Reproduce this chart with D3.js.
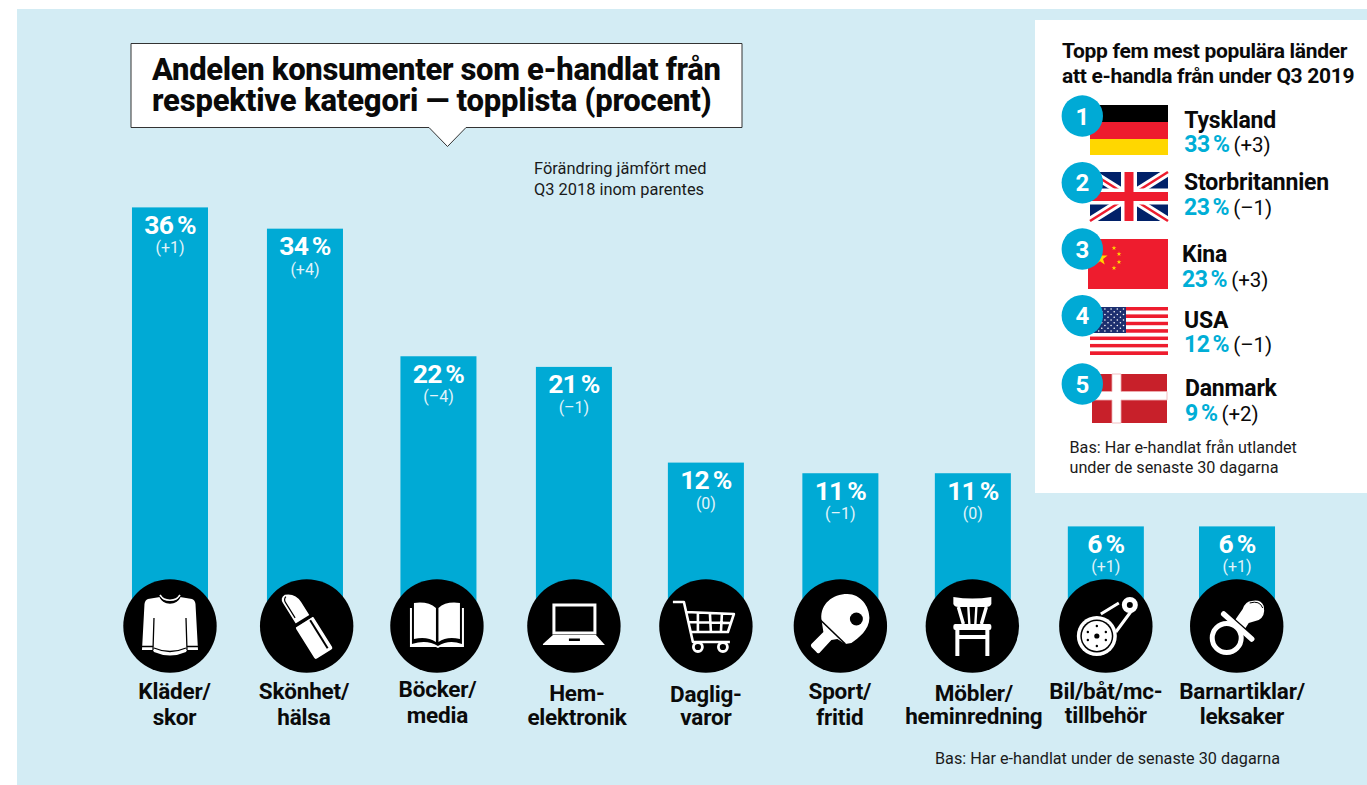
<!DOCTYPE html>
<html lang="sv">
<head>
<meta charset="utf-8">
<title>E-handel från utlandet</title>
<script src="https://cdnjs.cloudflare.com/ajax/libs/d3/7.8.5/d3.min.js"></script>
<style>
  html, body { margin: 0; padding: 0; background: #fff; }
  svg { display: block; }
  text { font-family: Roboto, "Noto Sans", sans-serif; }
</style>
</head>
<body>
<svg id="chart" width="1367" height="785"></svg>
<script>
// Category shares, Q3 2019 (percent) and change from Q3 2018 (points)
const categoryKeys = ["klader", "skonhet", "bocker", "hemelektronik", "dagligvaror", "sport", "mobler", "bil", "barn"];
const categoryLines = [
  ["Kläder/", "skor"], ["Skönhet/", "hälsa"], ["Böcker/", "media"],
  ["Hem-", "elektronik"], ["Daglig-", "varor"], ["Sport/", "fritid"],
  ["Möbler/", "heminredning"], ["Bil/båt/mc-", "tillbehör"], ["Barnartiklar/", "leksaker"]
];
const shares = [36, 34, 22, 21, 12, 11, 11, 6, 6];
const changes = ["+1", "+4", "–4", "–1", "0", "–1", "0", "+1", "+1"];

// Top five countries to shop from
const countries = ["Tyskland", "Storbritannien", "Kina", "USA", "Danmark"];
const countryShares = [33, 23, 23, 12, 9];
const countryChanges = ["+3", "–1", "+3", "–1", "+2"];

const titleLines = ["Andelen konsumenter som e-handlat från", "respektive kategori — topplista (procent)"];
const noteLines = ["Förändring jämfört med", "Q3 2018 inom parentes"];
const panelTitleLines = ["Topp fem mest populära länder", "att e-handla från under Q3 2019"];
const panelBaseLines = ["Bas: Har e-handlat från utlandet", "under de senaste 30 dagarna"];
const chartBase = "Bas: Har e-handlat under de senaste 30 dagarna";

const BLUE = "#00aad5", BG = "#d3ecf4", INK = "#0a0a0a", RED = "#ee1c2e";

const svg = d3.select("#chart");
svg.append("rect").attr("x", 17).attr("y", 9).attr("width", 1350).attr("height", 776).attr("fill", BG);

function label(parent, str, x, y, size, weight, fill, opts = {}) {
  return parent.append("text").attr("x", x).attr("y", y)
    .attr("font-size", size).attr("font-weight", weight).attr("fill", fill)
    .attr("text-anchor", opts.anchor || "start")
    .attr("letter-spacing", opts.ls ?? null)
    .attr("word-spacing", opts.ws ?? null)
    .text(str);
}

// ---- Columns ----
const x = d3.scaleBand().domain(categoryKeys).range([103.3, 1303.7]).paddingInner(0.43).paddingOuter(0.215);
const y = d3.scaleLinear().domain([0, 36]).range([590.2, 207.4]);
// The columns were set by hand in the layout, so each sits slightly off the even grid
const columnNudge = [0, 1.6, 1.7, 3.8, 2.4, 3.5, 2.6, 2.2, 0];
const discNudge = [0, 1.7, -1.5, 0, 0, 0, -0.5, 0, -0.3];
const centre = i => x(categoryKeys[i]) + x.bandwidth() / 2 + columnNudge[i];
const footY = y(-1.2); // the foot of each column tucks under its icon disc

const columns = svg.append("g").selectAll("g").data(shares).join("g");
columns.append("rect")
  .attr("x", (d, i) => centre(i) - x.bandwidth() / 2)
  .attr("y", d => y(d))
  .attr("width", x.bandwidth())
  .attr("height", d => footY - y(d))
  .attr("fill", BLUE);
columns.append("text")
  .attr("x", (d, i) => centre(i)).attr("y", d => y(d) + 26.5)
  .attr("text-anchor", "middle").attr("fill", "#fff")
  .attr("font-size", 26.5).attr("font-weight", 700).attr("letter-spacing", -0.8).attr("word-spacing", -2)
  .text(d => d + " %");
columns.append("text")
  .attr("x", (d, i) => centre(i)).attr("y", d => y(d) + 46)
  .attr("text-anchor", "middle").attr("fill", "#e3f4fa")
  .attr("font-size", 16).attr("font-weight", 400)
  .text((d, i) => "(" + changes[i] + ")");

// ---- Icon glyphs, drawn around the disc centre ----
const W = "#fff", K = "#000";
const icons = {
  klader(g) {
    g.append("path").attr("fill", W).attr("d", "M-10,-29 C-6,-21 6,-21 10,-29 L22,-27 Q25,-26 25.5,-22 L28,24 L17,24 L16,26 Q0,33 -16,26 L-17,24 L-28,24 L-25.5,-22 Q-25,-26 -22,-27 Z");
    g.append("path").attr("fill", "none").attr("stroke", W).attr("stroke-width", 1.6).attr("d", "M-10,-31 C-6,-24 6,-24 10,-31");
    g.append("path").attr("fill", "none").attr("stroke", K).attr("stroke-width", 1.3)
      .attr("d", "M-16,-8 L-17,24 M16,-8 L17,24 M-28,20.5 L-17,20.5 M28,20.5 L17,20.5 M-16,22 Q0,29 16,22 M-10,-29 C-6,-21 6,-21 10,-29");
  },
  skonhet(g) {
    const l = g.append("g").attr("transform", "rotate(-32) translate(0,-1)");
    l.append("path").attr("fill", W).attr("d", "M-8,-6 L-8,-31 Q-8,-37 -2,-37 Q8,-33 8,-22 L8,-6 Z");
    l.append("path").attr("fill", "none").attr("stroke", K).attr("stroke-width", 1.2).attr("d", "M-5.5,-12 L-5.5,-30 Q-5.5,-34 -2,-35");
    l.append("rect").attr("x", -10.5).attr("y", -4).attr("width", 21).attr("height", 38).attr("rx", 2).attr("fill", W);
    l.append("rect").attr("x", -10.5).attr("y", -7).attr("width", 21).attr("height", 3.5).attr("fill", K);
    l.append("path").attr("stroke", K).attr("stroke-width", 2).attr("d", "M6,-2 L6,31");
  },
  bocker(g) {
    g.append("path").attr("fill", W).attr("d", "M-27,-18 L-25,-18 L-25,18 Q-10,13 1,20 Q12,13 25,18 L25,-18 L27,-18 L27,21 L3,21 L1,22 L-1,21 L-27,21 Z");
    g.append("path").attr("fill", W).attr("d", "M-23,-23 Q-9,-25 -1,-18 L-1,16 Q-10,10 -23,13 Z");
    g.append("path").attr("fill", W).attr("d", "M23,-23 Q9,-25 1.5,-18 L1.5,16 Q10,10 23,13 Z");
  },
  hemelektronik(g) {
    g.append("rect").attr("x", -20).attr("y", -21).attr("width", 41).attr("height", 28).attr("fill", "none").attr("stroke", W).attr("stroke-width", 3);
    g.append("path").attr("fill", W).attr("d", "M-21,9 L22,9 L31,19 L31,19 L-31,19 L-31,18 Z");
    g.append("rect").attr("x", -5).attr("y", 12.5).attr("width", 11).attr("height", 2.5).attr("fill", K);
  },
  dagligvaror(g) {
    g.append("path").attr("fill", "none").attr("stroke", W).attr("stroke-width", 2.6).attr("stroke-linejoin", "round")
      .attr("d", "M-33,-24 L-22,-24 L-13,16 L24,16 M-20,-14 L28,-12 L22,6 L-15,6 M-8,-13 L-8,6 M4,-13 L5,6 M16,-12 L15,6 M-18,-4 L25,-3");
    g.append("circle").attr("cx", -8).attr("cy", 21).attr("r", 4.5).attr("fill", "none").attr("stroke", W).attr("stroke-width", 2.8);
    g.append("circle").attr("cx", 17).attr("cy", 21).attr("r", 4.5).attr("fill", "none").attr("stroke", W).attr("stroke-width", 2.8);
  },
  sport(g) {
    g.append("path").attr("fill", W).attr("d", "M-19,-7 C-20,-22 -8,-32 7,-32 C20,-32 29,-20 29,-8 C29,4 18,12 11,17 L5,18 L-3,13 L-9,14 L-21,27 Q-23,28 -24,26 L-29,21 Q-30,19 -29,18 L-17,6 Z");
    g.append("path").attr("stroke", K).attr("stroke-width", 1.6).attr("fill", "none").attr("d", "M-21,-7 L5,18");
    g.append("circle").attr("cx", 16).attr("cy", -7).attr("r", 6.5).attr("fill", K);
  },
  mobler(g) {
    g.append("path").attr("fill", W).attr("d", "M-19,-29 Q0,-26 19,-29 L19,-22 Q18,-19 14,-19 L-14,-19 Q-18,-19 -19,-22 Z");
    g.append("path").attr("stroke", W).attr("fill", "none").attr("stroke-width", 3.4).attr("d", "M-14,-19 L-9,-2 M14,-19 L9,-2");
    g.append("path").attr("stroke", W).attr("fill", "none").attr("stroke-width", 2.4).attr("d", "M-4,-19 L-3,-2 M4,-19 L3,-2");
    g.append("rect").attr("x", -19).attr("y", -2).attr("width", 38).attr("height", 6).attr("rx", 2).attr("fill", W);
    g.append("path").attr("fill", W).attr("d", "M-17,4 L-13,4 L-13,9 L13,9 L13,4 L17,4 L17,30 L13,30 L13,13 L-13,13 L-13,30 L-17,30 Z");
  },
  bil(g) {
    g.append("circle").attr("cx", -9).attr("cy", 10).attr("r", 20).attr("fill", W);
    g.append("circle").attr("cx", -9).attr("cy", 10).attr("r", 16.5).attr("fill", K);
    g.append("circle").attr("cx", -9).attr("cy", 10).attr("r", 15).attr("fill", W);
    [[-9, 10, 2.6], [-9, 0, 1.2], [-9, 20, 1.2], [-18, 6, 1.2], [-18, 14, 1.2], [0, 6, 1.2], [0, 14, 1.2]]
      .forEach(p => g.append("circle").attr("cx", p[0]).attr("cy", p[1]).attr("r", p[2]).attr("fill", K));
    g.append("path").attr("stroke", W).attr("stroke-width", 3).attr("fill", "none")
      .attr("d", "M-5,-12 L13,-23 M10,6 L27,-17");
    g.append("circle").attr("cx", 24).attr("cy", -21).attr("r", 5.5).attr("fill", K).attr("stroke", W).attr("stroke-width", 5);
  },
  barn(g) {
    g.append("path").attr("fill", W).attr("d", "M-3,-4 L6,-17 Q9,-25 15,-25 Q24,-27 27,-20 Q29,-10 22,-6 L12,-3 L5,8 Z");
    g.append("path").attr("fill", "none").attr("stroke", K).attr("stroke-width", 1).attr("d", "M13,-23 Q23,-26 26,-18");
    g.append("path").attr("stroke", K).attr("stroke-width", 8).attr("stroke-linecap", "round").attr("d", "M-13,-12 L15,13");
    g.append("path").attr("stroke", W).attr("stroke-width", 5.5).attr("stroke-linecap", "round").attr("d", "M-13,-12 L15,13");
    g.append("circle").attr("cx", -10).attr("cy", 12).attr("r", 14.5).attr("fill", "none").attr("stroke", W).attr("stroke-width", 5);
  }
};

const discs = svg.append("g").selectAll("g").data(categoryKeys).join("g")
  .attr("transform", (k, i) => `translate(${centre(i) + discNudge[i]},626)`);
discs.append("circle").attr("r", 46.7).attr("fill", K);
discs.each(function (k) { icons[k](d3.select(this)); });

// ---- Category names ----
const nameOffset = [4.5, -1, -1, 3, 0, -0.5, 1, 0, 5];
const firstBaseline = [699, 699, 697, 700.5, 701.5, 699.3, 700.7, 699, 699.3];
const secondBaseline = [724.7, 724.7, 722.7, 724.7, 725, 724.7, 724, 722.7, 724];
categoryLines.forEach((lines, i) => {
  const cx = centre(i) + nameOffset[i];
  label(svg, lines[0], cx, firstBaseline[i], 22.5, 700, INK, { anchor: "middle", ls: -0.2 });
  label(svg, lines[1], cx, secondBaseline[i], 22.5, 700, INK, { anchor: "middle", ls: -0.2 });
});

// ---- Title speech bubble ----
svg.append("path").attr("fill", "#fff").attr("stroke", "#333").attr("stroke-width", 1)
  .attr("d", "M131,43.5 H742 V127.5 H466 L447.5,146.5 L429,127.5 H131 Z");
label(svg, titleLines[0], 152, 79.5, 31, 800, INK, { ls: -0.33 });
label(svg, titleLines[1], 152, 111, 31, 800, INK, { ls: -0.2 });

label(svg, noteLines[0], 534, 174, 16.4, 400, "#1a1a1a");
label(svg, noteLines[1], 534, 195, 16.4, 400, "#1a1a1a");

label(svg, chartBase, 935, 764, 16.2, 400, "#1a1a1a");

// ---- Country panel ----
const panel = svg.append("g");
panel.append("rect").attr("x", 1035).attr("y", 20).attr("width", 332).attr("height", 473).attr("fill", "#fff");
label(panel, panelTitleLines[0], 1062, 58, 21, 700, INK, { ls: -0.3 });
label(panel, panelTitleLines[1], 1062, 82.7, 21, 700, INK, { ls: -0.3 });

const flagW = 78;
function flagGermany(g) {
  [["#000", 105, 17], [RED, 122, 17], ["#ffd700", 139, 16]].forEach(s =>
    g.append("rect").attr("x", 1090).attr("y", s[1]).attr("width", flagW).attr("height", s[2]).attr("fill", s[0]));
}
function flagUK(g) {
  const f = g.append("g").attr("transform", "translate(1090,172)");
  const w = flagW, h = 49;
  f.append("rect").attr("width", w).attr("height", h).attr("fill", "#012169");
  f.append("path").attr("stroke", "#fff").attr("stroke-width", 8).attr("d", `M0,0 L${w},${h} M${w},0 L0,${h}`);
  f.append("path").attr("stroke", RED).attr("stroke-width", 2.6).attr("d", `M0,0 L${w},${h} M${w},0 L0,${h}`);
  f.append("path").attr("stroke", "#fff").attr("stroke-width", 16).attr("d", `M${w / 2},0 V${h} M0,${h / 2} H${w}`);
  f.append("path").attr("stroke", RED).attr("stroke-width", 9).attr("d", `M${w / 2},0 V${h} M0,${h / 2} H${w}`);
}
function star(cx, cy, r) {
  const pts = d3.range(10).map(i => {
    const a = -Math.PI / 2 + i * Math.PI / 5, q = i % 2 ? r * 0.4 : r;
    return [cx + q * Math.cos(a), cy + q * Math.sin(a)];
  });
  return "M" + pts.join("L") + "Z";
}
function flagChina(g) {
  g.append("rect").attr("x", 1088).attr("y", 239).attr("width", 80).attr("height", 50).attr("fill", RED);
  [[1100, 258, 8], [1114, 248, 2.5], [1119, 254, 2.5], [1119, 262, 2.5], [1114, 268, 2.5]].forEach(s =>
    g.append("path").attr("d", star(s[0], s[1], s[2])).attr("fill", "#ffd700"));
}
function flagUSA(g) {
  const band = d3.scaleBand().domain(d3.range(13)).range([307, 355]);
  g.selectAll("rect.stripe").data(d3.range(13)).join("rect").attr("class", "stripe")
    .attr("x", 1090).attr("y", d => band(d)).attr("width", flagW).attr("height", band.bandwidth())
    .attr("fill", d => d % 2 ? "#fff" : RED);
  g.append("rect").attr("x", 1090).attr("y", 307).attr("width", 36).attr("height", 26).attr("fill", "#1d2f6f");
  d3.range(9).forEach(r => d3.range(r % 2 ? 5 : 6).forEach(c =>
    g.append("circle").attr("cx", 1092.5 + c * 6.2 + (r % 2 ? 3.1 : 0)).attr("cy", 309 + r * 2.75).attr("r", 0.8).attr("fill", "#fff")));
}
function flagDenmark(g) {
  g.append("rect").attr("x", 1092).attr("y", 374).attr("width", 75).attr("height", 49).attr("fill", "#c8202a");
  g.append("path").attr("fill", "#fff").attr("stroke", "#eeb0b4").attr("stroke-width", 0.8)
    .attr("d", "M1112,374 H1121 V391.5 H1167 V400 H1121 V423 H1112 V400 H1092 V391.5 H1112 Z");
}
[flagGermany, flagUK, flagChina, flagUSA, flagDenmark].forEach(fn => fn(panel.append("g")));

const rankCentres = [116, 182.7, 249, 315.7, 384];
const rowX = [1184.3, 1184, 1182, 1184, 1185];
const nameBaseline = [127.7, 190, 262, 327.7, 395.7];
const shareBaseline = [151.7, 215, 286.7, 351.7, 421];

countries.forEach((name, i) => {
  panel.append("circle").attr("cx", 1082.3).attr("cy", rankCentres[i]).attr("r", 20.7).attr("fill", BLUE);
  label(panel, String(i + 1), 1082.3, rankCentres[i] + 8.5, 24, 700, "#fff", { anchor: "middle" });
  label(panel, name, rowX[i], nameBaseline[i], 23, 700, INK, { ls: -0.2 });
  const t = panel.append("text").attr("x", rowX[i]).attr("y", shareBaseline[i]).attr("font-size", 23);
  t.append("tspan").attr("font-weight", 700).attr("fill", "#00aed6").attr("letter-spacing", -0.5).attr("word-spacing", -2).text(countryShares[i] + " %");
  t.append("tspan").attr("font-weight", 400).attr("fill", INK).attr("dx", 4).attr("font-size", 20.5).text("(" + countryChanges[i] + ")");
});

label(panel, panelBaseLines[0], 1069.5, 452.7, 16.2, 400, "#1a1a1a");
label(panel, panelBaseLines[1], 1069.5, 472.7, 16.2, 400, "#1a1a1a");
</script>
</body>
</html>
